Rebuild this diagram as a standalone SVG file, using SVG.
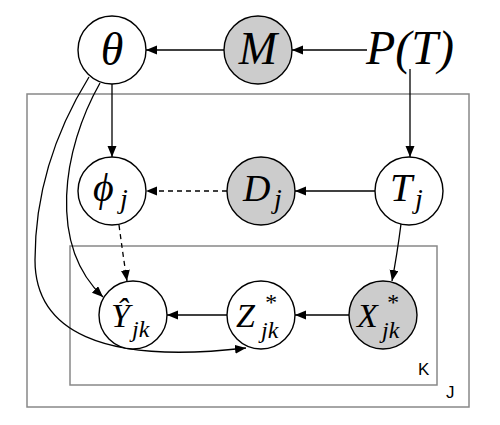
<svg xmlns="http://www.w3.org/2000/svg" width="500" height="425" viewBox="0 0 500 425">
<style>
.n{fill:#fff;stroke:#000;stroke-width:1.4}
.o{fill:#cccccc;stroke:#000;stroke-width:1.4}
.t{font-family:"Liberation Serif","DejaVu Serif",serif;font-style:italic;fill:#000}
.plate{fill:none;stroke:#888;stroke-width:1.5}
.lbl{font-family:"Liberation Sans",Arial,sans-serif;font-size:17px;fill:#000}
.e{fill:none;stroke:#000;stroke-width:1.3;marker-end:url(#a)}
.d{stroke-dasharray:5,4}
</style>
<defs>
<marker id="a" markerUnits="userSpaceOnUse" markerWidth="12" markerHeight="10" refX="11" refY="4.5" orient="auto" viewBox="0 0 12 10">
<path d="M0,0 L11,4.5 L0,9 z" fill="#000"/>
</marker>
</defs>
<g id="plates">
<rect class="plate" x="27" y="94" width="442" height="313"/>
<rect class="plate" x="70" y="246" width="367" height="139"/>
<text class="lbl" x="418" y="375">K</text>
<text class="lbl" x="446" y="398">J</text>
</g>
<g id="connectors">
<path class="e" d="M367,50 L292,50"/>
<path class="e" d="M224,50 L146,50"/>
<path class="e" d="M410,69 L410,157"/>
<path class="e" d="M112,84 L112,157"/>
<path class="e" d="M375,191 L295,191"/>
<path class="e d" d="M227,191 L146,191"/>
<path class="e d" d="M119,225 Q123,255 127,281"/>
<path class="e" d="M401,224 Q397,255 392,281"/>
<path class="e" d="M349,315 L295,315"/>
<path class="e" d="M227,315 L167,315"/>
<path class="e" d="M100,83 C62,150 48,245 103,297"/>
<path class="e" d="M89,77 C50,140 35,200 35,260 C35,330 100,365 246,348"/>
</g>
<g id="theta"><circle class="n" cx="112" cy="50" r="34"/><text class="t" x="112" y="65" font-size="46" text-anchor="middle">θ</text></g>
<g id="M"><circle class="o" cx="258" cy="50" r="34"/><text class="t" x="258" y="64" font-size="46" text-anchor="middle">M</text></g>
<g id="PT"><text class="t" x="366" y="64" font-size="48">P(T)</text></g>
<g id="phi"><circle class="n" cx="112" cy="191" r="34"/><text class="t" x="93" y="201" font-size="40">ϕ<tspan x="120" y="208" font-size="28">j</tspan></text></g>
<g id="D"><circle class="o" cx="261" cy="191" r="34"/><text class="t" x="243" y="201" font-size="38">D<tspan x="274" y="208" font-size="28">j</tspan></text></g>
<g id="T"><circle class="n" cx="409" cy="191" r="34"/><text class="t" x="390" y="201" font-size="40">T<tspan x="415" y="208" font-size="28">j</tspan></text></g>
<g id="Y"><circle class="n" cx="133" cy="315" r="34"/><text class="t" x="111" y="327" font-size="34">Ŷ<tspan x="132" y="337" font-size="24">jk</tspan></text></g>
<g id="Z"><circle class="n" cx="261" cy="315" r="34"/><text class="t" x="236" y="327" font-size="34">Z<tspan x="264" y="310" font-size="24">*</tspan><tspan x="261" y="338" font-size="24">jk</tspan></text></g>
<g id="X"><circle class="o" cx="383" cy="315" r="34"/><text class="t" x="357" y="327" font-size="34">X<tspan x="386" y="310" font-size="24">*</tspan><tspan x="382" y="338" font-size="24">jk</tspan></text></g>
</svg>
